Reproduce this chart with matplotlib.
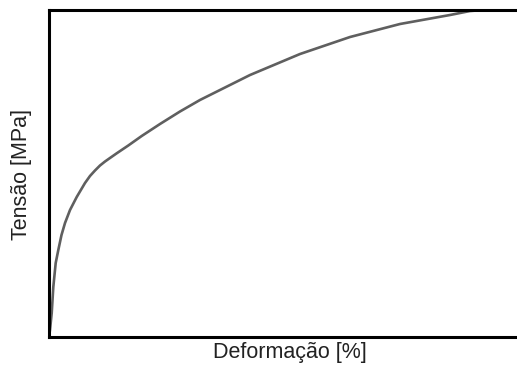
import matplotlib
matplotlib.use("Agg")
import matplotlib.pyplot as plt

# curve (strain %, stress % of axis height)
deformacao = [0, 0.21, 0.58, 0.92, 1.43, 1.99, 2.67, 3.42, 4.49, 5.92, 7.69,
              8.76, 9.83, 10.90, 11.97, 13.03, 14.47, 16.94, 19.81, 23.72,
              27.99, 32.26, 42.95, 53.63, 64.32, 75.0, 85.68, 89.96, 95.73]
tensao = [0, 2.14, 7.34, 15.29, 22.63, 26.61, 31.19, 34.86, 38.84, 42.81, 47.09,
          49.24, 50.92, 52.45, 53.67, 54.74, 56.18, 58.56, 61.47, 65.14,
          68.96, 72.48, 80.12, 86.54, 91.74, 95.72, 98.47, 99.69, 100.31]

x_label = "Deformação [%]"
y_label = "Tensão [MPa]"

plt.rcParams['font.family'] = ['Liberation Sans', 'DejaVu Sans']

fig = plt.figure(figsize=(5.17, 3.65), dpi=100)
ax = fig.add_axes([49 / 517, 28 / 365, 1 - 49 / 517, 327 / 365])

ax.plot(deformacao, tensao, color="#5f5f5f", linewidth=1.9,
        solid_capstyle="round", solid_joinstyle="round")

ax.set_xlim(0, 100)
ax.set_ylim(0, 100)
ax.set_xticks([])
ax.set_yticks([])

for side in ["left", "bottom", "top"]:
    ax.spines[side].set_linewidth(2.2)
    ax.spines[side].set_color("black")
ax.spines["right"].set_visible(False)

ax.set_xlabel(x_label, fontsize=15.5, color="#222222", va="center")
ax.set_ylabel(y_label, fontsize=15.5, color="#222222", va="center")
ax.xaxis.set_label_coords(0.514, -0.047)
ax.yaxis.set_label_coords(-0.059, 0.498)

fig.savefig("out.png", dpi=100)
